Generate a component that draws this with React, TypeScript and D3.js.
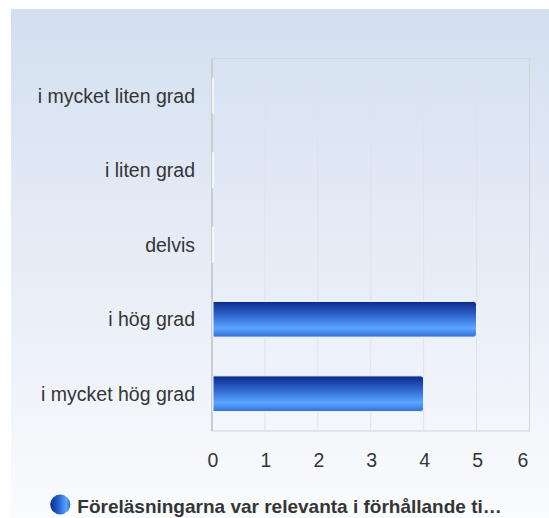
import React from "react";
import * as d3 from "d3";

const categories = ["i mycket liten grad", "i liten grad", "delvis", "i hög grad", "i mycket hög grad"];
const values = [0, 0, 0, 5, 4];
const xTicks = [0, 1, 2, 3, 4, 5, 6];
const legendLabel = "Föreläsningarna var relevanta i förhållande ti…";

const W = 549;
const H = 518;
const plot = { left: 212, right: 529.5, top: 58.5, bottom: 431 };

export default function App() {
  const x = d3.scaleLinear().domain([0, 6]).range([plot.left, plot.right]);
  const y = d3
    .scaleBand<string>()
    .domain(categories)
    .range([plot.top, plot.bottom])
    .paddingInner(0.52)
    .paddingOuter(0.26);

  const font = "'Liberation Sans', Arial, sans-serif";

  const barPath = (x0: number, x1: number, y0: number, h: number) => {
    const r = Math.min(3, (x1 - x0) / 2);
    return `M${x0},${y0} H${x1 - r} Q${x1},${y0} ${x1},${y0 + r} V${y0 + h - r} Q${x1},${y0 + h} ${x1 - r},${y0 + h} H${x0} Z`;
  };

  return (
    <svg
      width={W}
      height={H}
      style={{ position: "absolute", left: 0, top: 0, display: "block" }}
      fontFamily={font}
    >
      <defs>
        <linearGradient id="bg" x1="0" y1="0" x2="0" y2="1">
          <stop offset="0" stopColor="#d3dff0" />
          <stop offset="1" stopColor="#fafbfd" />
        </linearGradient>
        <linearGradient id="bar" x1="0" y1="0" x2="0" y2="1">
          <stop offset="0" stopColor="#0a2a88" />
          <stop offset="0.35" stopColor="#2a5fc8" />
          <stop offset="0.75" stopColor="#5aa6ff" />
          <stop offset="1" stopColor="#2f6fd6" />
        </linearGradient>
        <linearGradient id="dot" x1="0" y1="0" x2="1" y2="0">
          <stop offset="0" stopColor="#0b2c8c" />
          <stop offset="0.45" stopColor="#2a64d0" />
          <stop offset="0.8" stopColor="#5aa6ff" />
          <stop offset="1" stopColor="#2f6fd6" />
        </linearGradient>
      </defs>

      <rect x={11} y={9} width={W - 11} height={H - 9} fill="url(#bg)" />

      {/* grid */}
      {xTicks.map((t) => (
        <line
          key={t}
          x1={x(t)}
          x2={x(t)}
          y1={plot.top}
          y2={plot.bottom}
          stroke="#dfe2e8"
          strokeWidth={1}
        />
      ))}
      <rect
        x={plot.left}
        y={plot.top}
        width={plot.right - plot.left}
        height={plot.bottom - plot.top}
        fill="none"
        stroke="#d2d5da"
        strokeWidth={1}
      />
      <line x1={plot.left} x2={plot.left} y1={plot.top} y2={plot.bottom} stroke="#c9ccd1" strokeWidth={2} />

      {/* bars */}
      {categories.map((c, i) => {
        const y0 = y(c)!;
        const x0 = x(0) + 1;
        const x1 = x(values[i]);
        if (values[i] === 0) {
          return (
            <line key={c} x1={x0} x2={x0} y1={y0} y2={y0 + y.bandwidth()} stroke="#ffffff" strokeWidth={1.5} />
          );
        }
        return (
          <path
            key={c}
            d={barPath(x0, x1, y0, y.bandwidth())}
            fill="url(#bar)"
            stroke="#ffffff"
            strokeWidth={1}
          />
        );
      })}

      {/* category labels */}
      {categories.map((c) => (
        <text
          key={c}
          x={195}
          y={y(c)! + y.bandwidth() / 2}
          dy="0.35em"
          textAnchor="end"
          fontSize={19.5}
          fill="#353535"
        >
          {c}
        </text>
      ))}

      {/* x tick labels */}
      {xTicks.map((t) => (
        <text
          key={t}
          x={Math.min(x(t) + 1, 523)}
          y={460}
          dy="0.35em"
          textAnchor="middle"
          fontSize={19.5}
          fill="#353535"
        >
          {t}
        </text>
      ))}

      {/* legend */}
      <circle cx={60.3} cy={504.5} r={10} fill="url(#dot)" />
      <text x={77.3} y={513} fontSize={19} fontWeight="bold" fill="#353535">
        {legendLabel}
      </text>
    </svg>
  );
}
